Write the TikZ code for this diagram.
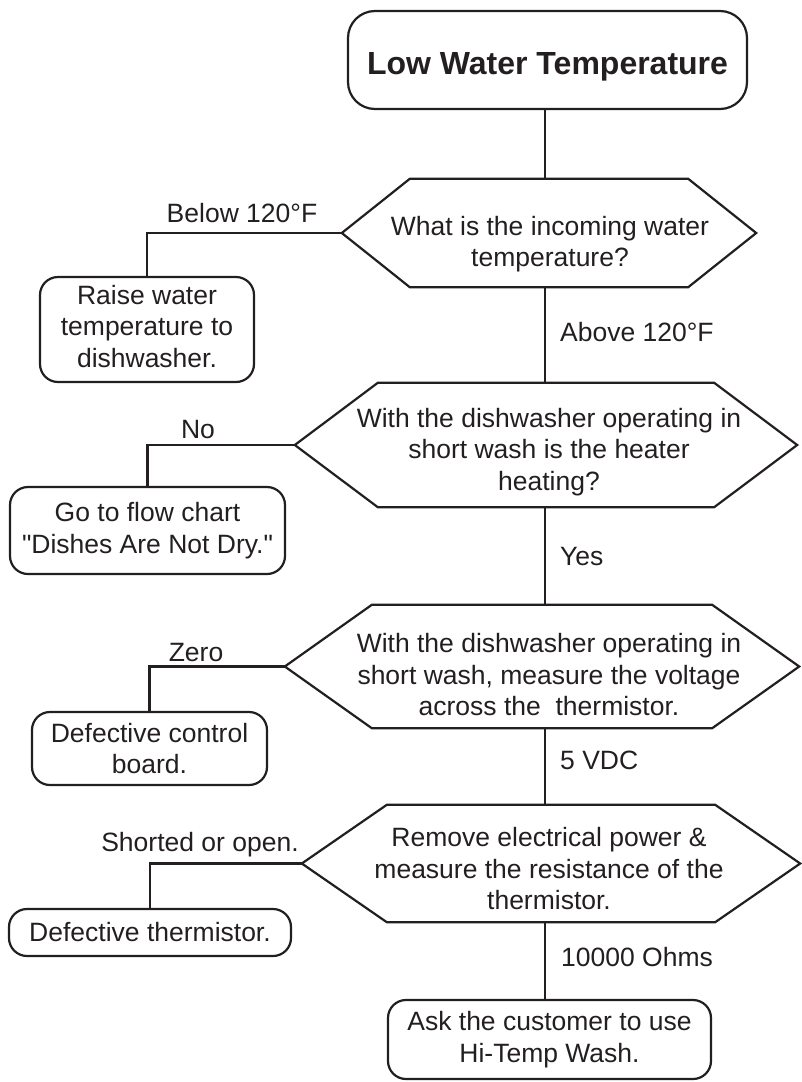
\documentclass[tikz,border=0pt]{standalone}
\usepackage{fontspec}
\setmainfont{Liberation Sans}[Ligatures=TeXOff]
\definecolor{ink}{RGB}{35,31,32}
\newcommand\bodyfont{\fontsize{26.5}{31.5}\selectfont}
\newcommand\hexdraw[2]{\draw[conn] (#1.west) -- ([xshift=#2pt]#1.north west) -- ([xshift=-#2pt]#1.north east) -- (#1.east) -- ([xshift=-#2pt]#1.south east) -- ([xshift=#2pt]#1.south west) -- cycle;}
\begin{document}
\begin{tikzpicture}[x=1pt,y=-1pt,
  conn/.style={draw=ink, line width=2.2pt, line join=miter},
  titlebox/.style={draw=ink, line width=2.2pt, rounded corners=27pt, minimum width=399pt, minimum height=98pt, inner sep=0pt, text height=35pt, font=\fontsize{32}{38}\selectfont\bfseries, text=ink},
  endbox/.style={draw=ink, line width=2.2pt, rounded corners=18pt, inner sep=0pt, align=center, font=\bodyfont, text=ink},
  hexframe/.style={inner sep=0pt, draw=none},
  hextext/.style={align=center, font=\bodyfont, text=ink, inner sep=0pt},
  lbl/.style={font=\bodyfont, text=ink, inner sep=0pt}]
\useasboundingbox (0,0) rectangle (801,1082);
\coordinate (trunk) at (545,0);

% title
\node[titlebox] (t) at (547.5,60) {Low Water Temperature};

% hexagons
\node[hexframe, minimum width=414pt, minimum height=108pt] (h1) at (549,233) {};
\hexdraw{h1}{68}
\node[hextext] (h1t) at (550,244) {What is the incoming water\\temperature?};

\node[hexframe, minimum width=502pt, minimum height=124pt] (h2) at (546,445) {};
\hexdraw{h2}{83}
\node[hextext] (h2t) at (549,452) {With the dishwasher operating in\\short wash is the heater\\heating?};

\node[hexframe, minimum width=514pt, minimum height=123pt] (h3) at (542,666.5) {};
\hexdraw{h3}{87}
\node[hextext] (h3t) at (549,675) {With the dishwasher operating in\\short wash, measure the voltage\\across the~~thermistor.};

\node[hexframe, minimum width=498pt, minimum height=117pt] (h4) at (551,863.5) {};
\hexdraw{h4}{85}
\node[hextext] (h4t) at (549,869) {Remove electrical power \&\\measure the resistance of the\\thermistor.};

% end boxes
\node[endbox, minimum width=214pt, minimum height=105pt] (b1) at (147,329.5) {\raisebox{-3pt}{\begin{tabular}{@{}c@{}}Raise water\\temperature to\\dishwasher.\end{tabular}}};
\node[endbox, minimum width=275pt, minimum height=87pt] (b2) at (147.5,530.5) {Go to flow chart\\"Dishes Are Not Dry."};
\node[endbox, minimum width=235pt, minimum height=73pt] (b3) at (149.5,748.5) {Defective control\\board.};
\node[endbox, minimum width=282pt, minimum height=47pt] (b4) at (150,932.5) {Defective thermistor.};
\node[endbox, minimum width=323pt, minimum height=79pt] (b5) at (549.5,1039.5) {Ask the customer to use\\Hi-Temp Wash.};

% connectors
\draw[conn] (t.south -| trunk) -- (h1.north -| trunk);
\draw[conn] (h1.south -| trunk) -- (h2.north -| trunk);
\draw[conn] (h2.south -| trunk) -- (h3.north -| trunk);
\draw[conn] (h3.south -| trunk) -- (h4.north -| trunk);
\draw[conn] (h4.south -| trunk) -- (b5.north -| trunk);
\draw[conn] (h1.west) -| (b1.north);
\draw[conn] (h2.west) -| (b2.north);
\draw[conn] (h3.west) -| (b3.north);
\draw[conn] (h4.west) -| (b4.north);

% labels
\node[lbl] (l1) at (242,213) {Below 120°F};
\node[lbl, anchor=west] (l2) at (560,332) {Above 120°F};
\node[lbl] (l3) at (198,430) {No};
\node[lbl, anchor=west] (l4) at (560,557) {Yes};
\node[lbl] (l5) at (196,653) {Zero};
\node[lbl, anchor=west] (l6) at (560,760) {5 VDC};
\node[lbl] (l7) at (200,845) {Shorted or open.};
\node[lbl, anchor=west] (l8) at (561,957) {10000 Ohms};
\end{tikzpicture}
\end{document}
